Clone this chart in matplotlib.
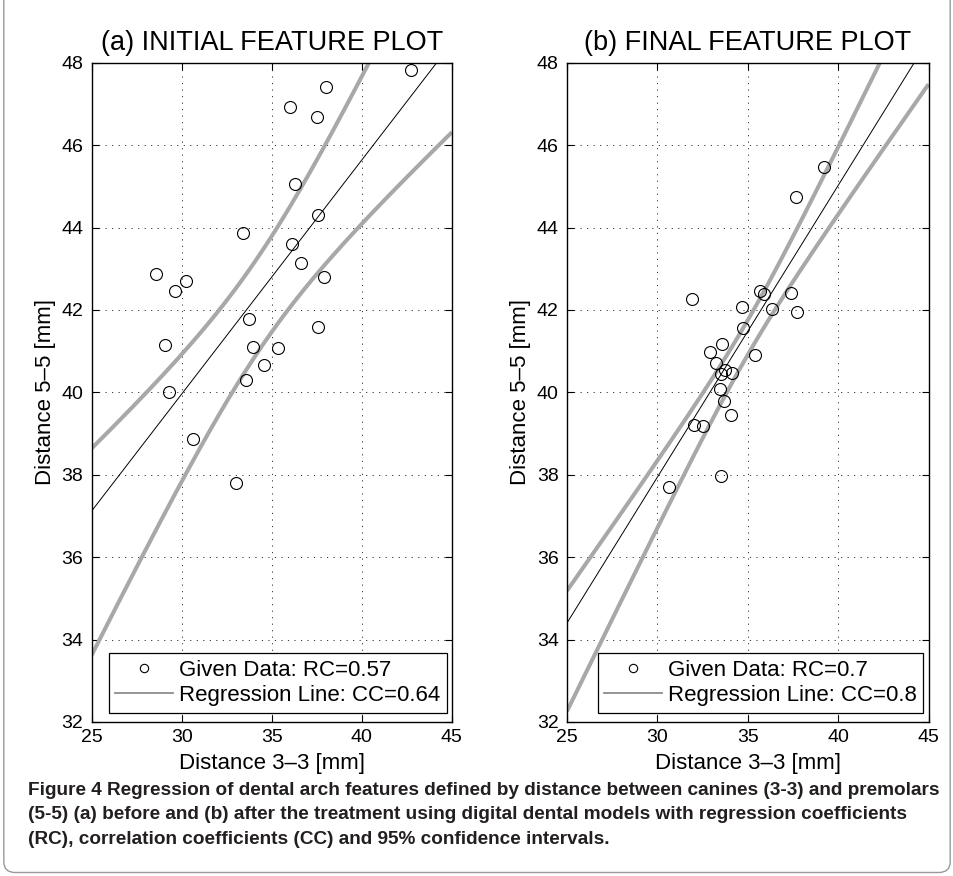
import numpy as np
import matplotlib
matplotlib.use('Agg')
import matplotlib.pyplot as plt
from matplotlib.lines import Line2D
from matplotlib.patches import FancyBboxPatch

# -----------------------------------------------------------------------
# Data
# -----------------------------------------------------------------------
# (a) initial: distance 3-3 vs distance 5-5
init_x = [42.73, 38.00, 35.99, 37.50, 36.31, 37.56, 33.42, 36.10, 36.62, 37.91,
          28.55, 30.25, 29.60, 33.73, 37.54, 29.07, 33.95, 35.37, 34.59, 33.58,
          29.31, 30.64, 33.01]
init_y = [47.82, 47.40, 46.93, 46.69, 45.05, 44.31, 43.86, 43.59, 43.13, 42.79,
          42.87, 42.70, 42.47, 41.78, 41.58, 41.16, 41.10, 41.07, 40.67, 40.29,
          40.00, 38.87, 37.81]

# (b) final
final_x = [39.22, 37.67, 31.89, 35.70, 35.92, 37.38, 34.69, 36.33, 37.74, 34.74,
           33.56, 32.92, 35.39, 33.25, 33.75, 34.13, 33.51, 33.47, 33.66, 34.08,
           32.05, 32.55, 33.53, 30.62]
final_y = [45.48, 44.73, 42.26, 42.46, 42.38, 42.42, 42.08, 42.03, 41.94, 41.55,
           41.17, 40.98, 40.90, 40.70, 40.54, 40.48, 40.44, 40.07, 39.80, 39.46,
           39.20, 39.19, 37.98, 37.69]

# regression lines: value at x=25, slope
init_reg = (37.12, 0.568)
final_reg = (34.40, 0.708)

# 95% confidence bands: centre value at x=35, centre slope, narrowest x,
# narrowest half width, asymptotic spread
init_band = (42.63, 0.650, 34.29, 1.15, 0.240)
final_band = (41.33, 0.761, 35.00, 0.42, 0.140)

titles = ['(a) INITIAL FEATURE PLOT', '(b) FINAL FEATURE PLOT']
legend_labels = [('Given Data: RC=0.57', 'Regression Line: CC=0.64'),
                 ('Given Data: RC=0.7', 'Regression Line: CC=0.8')]

caption = ("Figure 4 Regression of dental arch features defined by distance between canines (3-3) and premolars\n"
           "(5-5) (a) before and (b) after the treatment using digital dental models with regression coefficients\n"
           "(RC), correlation coefficients (CC) and 95% confidence intervals.")

BAND_COLOR = '#a8a8a8'
FONT = ['Liberation Sans', 'DejaVu Sans']

plt.rcParams['font.family'] = FONT

fig = plt.figure(figsize=(9.54, 8.76), dpi=100)

# outer frame of the figure box
frame = FancyBboxPatch((0.004, 0.004), 0.992, 1.2,
                       boxstyle='round,pad=0,rounding_size=0.012',
                       transform=fig.transFigure, facecolor='none',
                       edgecolor='#9a9a9a', linewidth=1.0, clip_on=False)
fig.patches.append(frame)

axes = [fig.add_axes([0.0961, 0.1759, 0.3776, 0.7525]),
        fig.add_axes([0.5943, 0.1759, 0.3790, 0.7525])]

panels = [(init_x, init_y, init_reg, init_band),
          (final_x, final_y, final_reg, final_band)]

xs = np.linspace(25, 45, 400)
for i, (ax, (px, py, reg, band)) in enumerate(zip(axes, panels)):
    # confidence band
    c35, cs, x0, a, k = band
    centre = c35 + cs * (xs - 35)
    half = np.sqrt(a ** 2 + (k * (xs - x0)) ** 2)
    ax.plot(xs, centre + half, color=BAND_COLOR, lw=2.9, solid_capstyle='butt', zorder=2)
    ax.plot(xs, centre - half, color=BAND_COLOR, lw=2.9, solid_capstyle='butt', zorder=2)

    # regression line
    ax.plot(xs, reg[0] + reg[1] * (xs - 25), color='black', lw=0.7, zorder=3)

    # data
    ax.plot(px, py, ls='none', marker='o', ms=8.6, mfc='none', mec='black',
            mew=0.8, zorder=4)

    ax.set_xlim(25, 45)
    ax.set_ylim(32, 48)
    ax.set_xticks(range(25, 46, 5))
    ax.set_yticks(range(32, 49, 2))
    ax.grid(True, color='#333333', lw=0.7, linestyle=(0, (1.2, 5.5)))
    ax.tick_params(direction='in', length=5, width=0.8, labelsize=14,
                   top=True, right=True, pad=6)
    ax.tick_params(axis='x', pad=5)
    for sp in ax.spines.values():
        sp.set_linewidth(1.0)

    ax.set_title(titles[i], fontsize=19.5, pad=9)
    ax.set_xlabel('Distance 3\u20133 [mm]', fontsize=16, labelpad=5)
    ax.set_ylabel('Distance 5\u20135 [mm]', fontsize=16, labelpad=4)

    handles = [Line2D([], [], ls='none', marker='o', ms=6, mfc='none',
                      mec='black', mew=0.8),
               Line2D([], [], color='#8c8c8c', lw=1.3)]
    leg = ax.legend(handles, legend_labels[i], loc='lower right',
                    bbox_to_anchor=(0.985, 0.014), borderaxespad=0,
                    fontsize=16, fancybox=False, framealpha=1,
                    edgecolor='black', handlelength=2.6, handletextpad=0.25,
                    labelspacing=0.2, borderpad=0.3)
    leg.get_frame().set_linewidth(0.9)

# caption, scaled to the width it takes in the figure
cap = fig.text(0.029, 0.107, caption, ha='left', va='top', fontsize=12.5,
               fontweight='bold', color='#231f20', linespacing=1.55,
               family=['Liberation Sans Narrow', 'Liberation Sans'])
renderer = fig.canvas.get_renderer()
first = fig.text(0, 0, caption.split('\n')[0], fontsize=12.5, fontweight='bold',
                 family=['Liberation Sans Narrow', 'Liberation Sans'])
w = first.get_window_extent(renderer).width
first.remove()
size = 12.5 * 918 / w
cap.set_fontsize(size)

fig.savefig('out.png', dpi=100)
